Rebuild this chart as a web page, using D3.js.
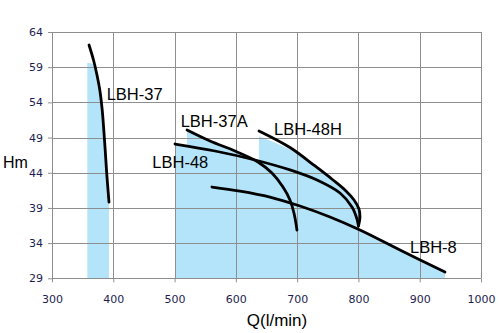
<!DOCTYPE html>
<html>
<head>
<meta charset="utf-8">
<script src="https://cdn.jsdelivr.net/npm/d3@7"></script>
<style>
  html, body { margin: 0; padding: 0; background: #fff; }
  svg { display: block; }
</style>
</head>
<body>
<svg id="chart" width="500" height="333"></svg>
<script>
// Pump performance curves: head (m) against flow (l/min)
const qTicks = [300, 400, 500, 600, 700, 800, 900, 1000];
const hTicks = [29, 34, 39, 44, 49, 54, 59, 64];
const modelNames = ["LBH-37", "LBH-37A", "LBH-48H", "LBH-48", "LBH-8"];

// Curve points [Q, H]
const lbh37 = [[360.4, 62.15], [367.7, 60.02], [373.4, 57.89], [378.0, 55.76], [381.9, 52.92],
               [384.5, 50.08], [386.8, 47.24], [388.9, 44.40], [391.4, 41.55], [393.0, 39.84]];
const lbh37A = [[520.3, 50.07], [557.8, 48.51], [598.6, 47.09], [636.1, 45.53], [658.9, 43.96],
                [676.9, 41.97], [688.3, 40.13], [694.8, 38.28], [699.7, 35.86]];
const lbh48H = [[637.7, 49.93], [688.3, 47.58], [729.1, 44.96], [758.5, 42.97], [779.7, 41.41],
                [792.8, 40.13], [800.9, 38.85], [802.5, 37.71], [800.1, 36.43]];
const lbh48 = [[500.7, 48.08], [565.9, 47.09], [631.2, 45.81], [688.3, 44.40], [732.4, 42.97],
               [769.9, 41.12], [789.5, 39.13], [797.6, 37.43], [800.1, 36.43]];
const lbh8 = [[561.0, 41.97], [606.7, 41.40], [655.7, 40.55], [704.6, 39.27], [753.6, 37.71],
              [802.5, 35.86], [867.8, 33.02], [941.2, 29.89]];

// Operating ranges shaded under the curves [Q, H]
const range37 = [[357.6, 59.6], [367.7, 59.4], [373.4, 57.89], [378.0, 55.76], [381.9, 52.92],
                 [384.5, 50.08], [386.8, 47.24], [388.9, 44.40], [391.4, 41.55], [393.0, 39.84]];
const range37A = lbh37A;
const range48H = [[637.7, 49.2], [688.3, 47.3], [729.1, 44.96], [758.5, 42.97], [779.7, 41.41],
                  [792.8, 40.13], [800.9, 38.85], [802.5, 37.71], [800.1, 36.43]];
const range48 = lbh48;
const range8 = lbh8;

// Label anchors [Q, H] for each model name
const labelAt = [[389.2, 54.34], [510.0, 50.54], [662.2, 49.36], [555.0, 44.63], [884.1, 32.64]];
const labelAnchor = ["start", "start", "start", "end", "start"];

const curves = [lbh37, lbh37A, lbh48H, lbh48, lbh8];
const ranges = [range37, range37A, range48H, range48, range8];

const svg = d3.select("#chart");
const x = d3.scaleLinear().domain([300, 1000]).range([52, 481]);
const y = d3.scaleLinear().domain([29, 64]).range([278.3, 32]);

const gridColor = "#8e8e8e";
const fillColor = "#b4e4fa";
const tickColor = "#1e1e52";

// Shaded ranges
const area = d3.area()
  .x(d => x(d[0]))
  .y0(y(29))
  .y1(d => y(d[1]))
  .curve(d3.curveCatmullRom.alpha(0.5));

svg.append("g").selectAll("path").data(ranges).join("path")
  .attr("d", area)
  .attr("fill", fillColor);

// Grid
const grid = svg.append("g").attr("shape-rendering", "crispEdges");
grid.selectAll("line.v").data(qTicks).join("line")
  .attr("class", "v")
  .attr("x1", d => Math.round(x(d)) + 0.5).attr("x2", d => Math.round(x(d)) + 0.5)
  .attr("y1", y(64)).attr("y2", y(29))
  .attr("stroke", gridColor).attr("stroke-width", 1);
grid.selectAll("line.h").data(hTicks).join("line")
  .attr("class", "h")
  .attr("x1", x(300)).attr("x2", x(1000))
  .attr("y1", d => Math.round(y(d)) + 0.5).attr("y2", d => Math.round(y(d)) + 0.5)
  .attr("stroke", gridColor).attr("stroke-width", 1);

// Axes
const xAxis = d3.axisBottom(x).tickValues(qTicks).tickSize(4).tickPadding(13).tickFormat(d3.format("d"));
const yAxis = d3.axisLeft(y).tickValues(hTicks).tickSize(4).tickPadding(5).tickFormat(d3.format("d"));

const gx = svg.append("g").attr("transform", `translate(0,${y(29)})`).call(xAxis);
const gy = svg.append("g").attr("transform", `translate(${x(300)},0)`).call(yAxis);
[gx, gy].forEach(g => {
  g.select(".domain").remove();
  g.selectAll(".tick line").attr("stroke", gridColor);
  g.selectAll(".tick text")
    .attr("fill", tickColor)
    .style("font-family", "'DejaVu Sans', Verdana, sans-serif")
    .style("font-size", "11px");
});

// Curves
const line = d3.line()
  .x(d => x(d[0]))
  .y(d => y(d[1]))
  .curve(d3.curveCatmullRom.alpha(0.5));

svg.append("g").selectAll("path").data(curves).join("path")
  .attr("d", line)
  .attr("fill", "none")
  .attr("stroke", "#000")
  .attr("stroke-width", 2.8)
  .attr("stroke-linecap", "round")
  .attr("stroke-linejoin", "round");

// Model labels
svg.append("g").selectAll("text").data(modelNames).join("text")
  .attr("x", (d, i) => x(labelAt[i][0]))
  .attr("y", (d, i) => y(labelAt[i][1]))
  .attr("text-anchor", (d, i) => labelAnchor[i])
  .style("font-family", "'Liberation Sans', Arial, sans-serif")
  .style("font-size", "16.5px")
  .attr("fill", "#000")
  .text(d => d);

// Axis titles
svg.append("text")
  .attr("x", 3).attr("y", 168)
  .style("font-family", "'Liberation Sans', Arial, sans-serif")
  .style("font-size", "16px")
  .text("Hm");
svg.append("text")
  .attr("x", 277).attr("y", 326)
  .attr("text-anchor", "middle")
  .style("font-family", "'Liberation Sans', Arial, sans-serif")
  .style("font-size", "17px")
  .text("Q(l/min)");
</script>
</body>
</html>
